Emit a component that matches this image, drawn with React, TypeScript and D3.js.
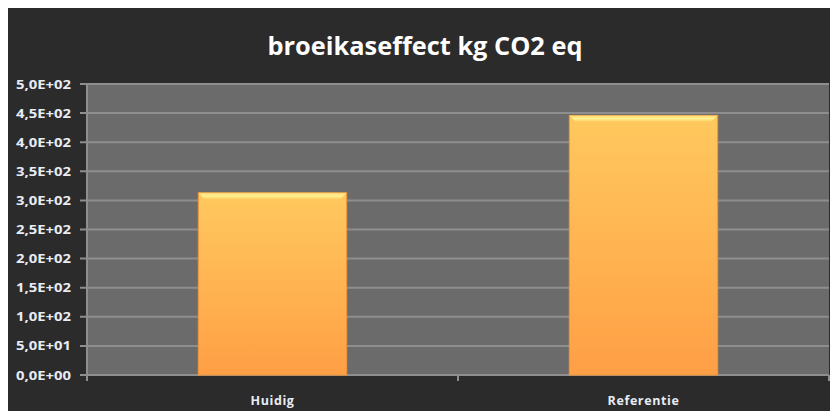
import { useRef, useEffect } from "react";
import * as d3 from "d3";

const categories = ["Huidig", "Referentie"];
const values = [313, 446];
const yTicks = [0, 50, 100, 150, 200, 250, 300, 350, 400, 450, 500];
const title = "broeikaseffect kg CO2 eq";

const fmt = (v: number) => {
  if (v === 0) return "0,0E+00";
  const e = Math.floor(Math.log10(v));
  const m = v / Math.pow(10, e);
  return `${m.toFixed(1).replace(".", ",")}E+${String(e).padStart(2, "0")}`;
};

export default function App() {
  const svgRef = useRef<SVGSVGElement>(null);

  useEffect(() => {
    const width = 838;
    const height = 419;
    const margin = { top: 84, right: 9, bottom: 44, left: 87 };
    const innerWidth = width - margin.left - margin.right;
    const innerHeight = height - margin.top - margin.bottom;

    const svg = d3.select(svgRef.current).attr("width", width).attr("height", height);
    svg.selectAll("*").remove();

    const defs = svg.append("defs");
    const grad = defs
      .append("linearGradient")
      .attr("id", "barGrad")
      .attr("x1", 0)
      .attr("y1", 0)
      .attr("x2", 0)
      .attr("y2", 1);
    grad.append("stop").attr("offset", "0%").attr("stop-color", "#ffc95e");
    grad.append("stop").attr("offset", "100%").attr("stop-color", "#ff9f45");

    const hl = defs
      .append("linearGradient")
      .attr("id", "hlGrad")
      .attr("x1", 0)
      .attr("y1", 0)
      .attr("x2", 0)
      .attr("y2", 1);
    hl.append("stop").attr("offset", "0%").attr("stop-color", "#ffd870");
    hl.append("stop").attr("offset", "50%").attr("stop-color", "#fff59a");
    hl.append("stop").attr("offset", "100%").attr("stop-color", "#ffd66a");

    // frame
    svg.append("rect").attr("width", width).attr("height", height).attr("fill", "#ffffff");
    svg.append("rect").attr("x", 7).attr("y", 5).attr("width", width - 7).attr("height", 2).attr("fill", "#8c8c8c");
    svg.append("rect").attr("x", 7).attr("y", 7).attr("width", width - 7).attr("height", height - 7).attr("fill", "#2b2b2b");

    svg
      .append("text")
      .attr("x", 425)
      .attr("y", 55)
      .attr("text-anchor", "middle")
      .attr("font-family", "'Open Sans', sans-serif")
      .attr("font-weight", "bold")
      .attr("font-size", 25)
      .attr("textLength", 315)
      .attr("lengthAdjust", "spacingAndGlyphs")
      .attr("fill", "#ffffff")
      .text(title);

    const g = svg.append("g").attr("transform", `translate(${margin.left}, ${margin.top})`);

    const x = d3.scaleBand().domain(categories).range([0, innerWidth]).paddingInner(0).paddingOuter(0);
    const y = d3.scaleLinear().domain([0, 500]).range([innerHeight, 0]);

    g.append("rect").attr("width", innerWidth).attr("height", innerHeight).attr("fill", "#6b6b6b");

    g.selectAll(".grid")
      .data(yTicks)
      .enter()
      .append("line")
      .attr("x1", -7)
      .attr("x2", innerWidth)
      .attr("y1", (d) => y(d))
      .attr("y2", (d) => y(d))
      .attr("stroke", "#8e8e8e")
      .attr("stroke-width", 2);

    g.append("line")
      .attr("x1", 0)
      .attr("x2", 0)
      .attr("y1", 0)
      .attr("y2", innerHeight)
      .attr("stroke", "#8e8e8e")
      .attr("stroke-width", 2);

    g.selectAll(".ylab")
      .data(yTicks)
      .enter()
      .append("text")
      .attr("x", -16)
      .attr("y", (d) => y(d))
      .attr("dy", "0.36em")
      .attr("text-anchor", "end")
      .attr("font-family", "'Open Sans', sans-serif")
      .attr("font-weight", "bold")
      .attr("font-size", 12.5)
      .attr("textLength", 55)
      .attr("lengthAdjust", "spacingAndGlyphs")
      .attr("fill", "#e8ecf4")
      .text((d) => fmt(d));

    // x ticks at band boundaries
    const bounds = [0, ...categories.map((c) => (x(c) as number) + x.bandwidth())];
    g.selectAll(".xtick")
      .data(bounds)
      .enter()
      .append("line")
      .attr("x1", (d) => d)
      .attr("x2", (d) => d)
      .attr("y1", innerHeight)
      .attr("y2", innerHeight + 6)
      .attr("stroke", "#8e8e8e")
      .attr("stroke-width", 2);

    const barW = x.bandwidth() * 0.4;
    const bars = g
      .selectAll(".bar")
      .data(categories)
      .enter()
      .append("g");

    bars
      .append("rect")
      .attr("x", (d) => (x(d) as number) + (x.bandwidth() - barW) / 2)
      .attr("y", (d, i) => y(values[i]))
      .attr("width", barW)
      .attr("height", (d, i) => innerHeight - y(values[i]))
      .attr("fill", "url(#barGrad)")
      .attr("stroke", "#f0953a")
      .attr("stroke-width", 1);

    // top bevel highlight
    bars
      .append("path")
      .attr("d", (d, i) => {
        const x0 = (x(d) as number) + (x.bandwidth() - barW) / 2;
        const y0 = y(values[i]);
        return `M${x0},${y0} L${x0 + barW},${y0} L${x0 + barW - 6},${y0 + 6} L${x0 + 6},${y0 + 6} Z`;
      })
      .attr("fill", "url(#hlGrad)")
      .attr("opacity", 0.9);

    g.selectAll(".xlab")
      .data(categories)
      .enter()
      .append("text")
      .attr("x", (d) => (x(d) as number) + x.bandwidth() / 2)
      .attr("y", innerHeight + 30)
      .attr("text-anchor", "middle")
      .attr("font-family", "'Open Sans', sans-serif")
      .attr("font-weight", "bold")
      .attr("font-size", 12.5)
      .attr("letter-spacing", 0.6)
      .attr("fill", "#e8ecf4")
      .text((d) => d);
  }, []);

  return (
    <div style={{ margin: -8 }}>
      <svg ref={svgRef} style={{ display: "block" }} />
    </div>
  );
}
